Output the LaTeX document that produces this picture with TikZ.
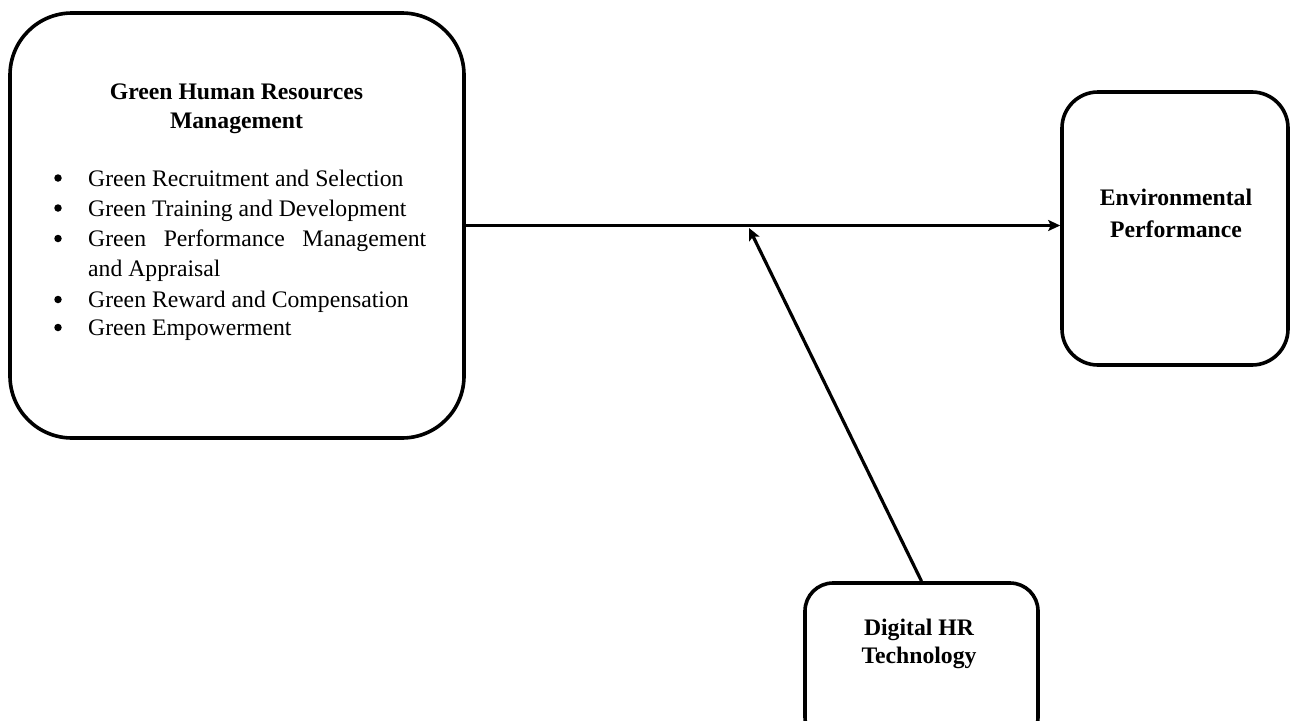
\documentclass[tikz,border=0pt]{standalone}
\usepackage{fontspec}
\setmainfont{Liberation Serif}
\usetikzlibrary{arrows.meta}
\begin{document}
\begin{tikzpicture}[x=1pt,y=-1pt,
  box/.style={draw, line width=3.6pt, inner sep=0pt},
  txt/.style={anchor=base, inner sep=0pt, font=\fontsize{23.7}{28}\selectfont},
  btxt/.style={txt, font=\fontsize{23.7}{28}\selectfont\bfseries},
  item/.style={anchor=base west, inner sep=0pt, font=\fontsize{23.7}{28}\selectfont},
  bul/.style={circle, fill, inner sep=0pt, minimum size=7.5pt},
  conn/.style={line width=3.2pt, -{Stealth[length=12pt,width=11pt,inset=2.5pt]}}]
\useasboundingbox (0,0) rectangle (1290,720);
\clip (0,0) rectangle (1290,720);
% boxes
\node[box, rounded corners=62pt, minimum width=454pt, minimum height=425pt] (ghrm) at (237,225.5) {};
\node[box, rounded corners=36pt, minimum width=226pt, minimum height=273pt] (env) at (1175,228.5) {};
\node[box, rounded corners=28pt, minimum width=233pt, minimum height=162pt] (dhr) at (921.5,664) {};
% texts in left box
\node[btxt] (t1) at (236.5,99.5) {Green Human Resources};
\node[btxt] (t2) at (236.5,128) {Management};
\node[bul] (b1) at (58,178) {};
\node[bul] (b2) at (58,208) {};
\node[bul] (b3) at (58,238.5) {};
\node[bul] (b4) at (58,299.5) {};
\node[bul] (b5) at (58,327.5) {};
\node[item] (i1) at (88,186) {Green Recruitment and Selection};
\node[item] (i2) at (88,216) {Green Training and Development};
\node[item] (i3) at (88,246.5) {\makebox[338pt][s]{Green Performance Management}};
\node[item] (i3b) at (88,276.5) {and Appraisal};
\node[item] (i4) at (88,307.5) {Green Reward and Compensation};
\node[item] (i5) at (88,335.5) {Green Empowerment};
% right box text
\node[btxt] (e1) at (1176,205) {Environmental};
\node[btxt] (e2) at (1176,237) {Performance};
% bottom box text
\node[btxt] (d1) at (919,635) {Digital HR};
\node[btxt] (d2) at (919,663) {Technology};
% connectors
\coordinate (mod) at (749,228);
\draw[conn] (ghrm.east) -- (ghrm.east -| env.west);
\draw[conn] (dhr.north) -- (mod);
\end{tikzpicture}
\end{document}
